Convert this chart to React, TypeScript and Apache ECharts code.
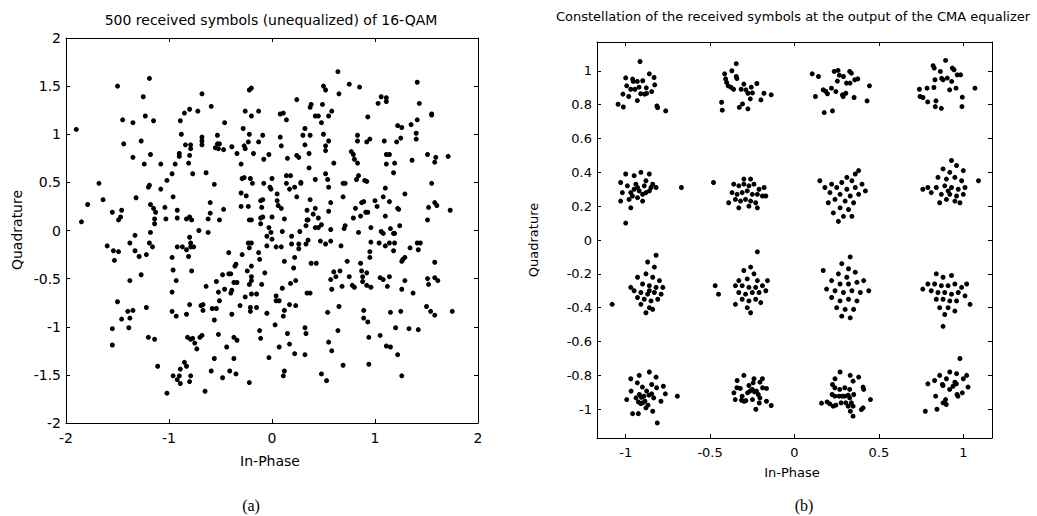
import React, { useEffect, useRef } from "react";
import * as echarts from "echarts";

const leftTitle = "500 received symbols (unequalized) of 16-QAM";
const rightTitle = "Constellation of the received symbols at the output of the CMA equalizer";
const xName = "In-Phase";
const yName = "Quadrature";
const captionA = "(a)";
const captionB = "(b)";

const rightXTicks = [-1, -0.5, 0, 0.5, 1];
const rightYTicks = [-1, -0.8, -0.6, -0.4, -0.2, 0, 0.2, 0.4, 0.6, 0.8, 1];

// (a) unequalized symbols, read region by region
const unequalizedUpperLeft = [
  [-1.90, 1.05], [-1.50, 1.50], [-1.19, 1.58], [-1.25, 1.39], [-1.45, 1.15], [-1.35, 1.12], [-1.23, 1.19], [-1.15, 1.14],
  [-1.44, 0.90], [-1.27, 0.93], [-1.35, 0.76], [-1.18, 0.79], [-1.24, 0.69], [-1.08, 0.69], [-0.94, 0.69], [-0.81, 0.70],
  [-0.68, 1.42], [-0.59, 1.29], [-0.80, 1.26], [-0.85, 1.22], [-0.72, 1.24], [-0.89, 1.14], [-0.88, 1.00], [-0.84, 0.89],
  [-0.79, 0.89], [-0.79, 0.85], [-0.90, 0.80], [-0.90, 0.77], [-0.80, 0.78], [-0.68, 0.97], [-0.68, 0.93], [-0.68, 0.89],
  [-0.53, 0.99], [-0.46, 1.12], [-0.55, 0.86], [-0.53, 0.90], [-0.51, 0.90], [-0.52, 0.85], [-0.47, 0.84], [-0.39, 0.87],
  [-0.34, 0.80], [-0.22, 1.46], [-0.20, 1.48], [-0.26, 1.24], [-0.13, 1.24], [-0.20, 1.19], [-0.28, 1.06], [-0.22, 1.00],
  [-0.09, 0.99], [-0.13, 0.92], [-0.23, 0.92], [-0.27, 0.88], [-0.26, 0.85], [-0.18, 0.80], [-0.03, 0.79], [-0.08, 0.74],
  [-0.30, 0.69],
];
const unequalizedUpperRight = [
  [0.64, 1.65], [0.50, 1.50], [0.52, 1.46], [0.75, 1.52], [0.85, 1.49], [0.65, 1.42], [0.24, 1.36], [0.38, 1.31],
  [0.37, 1.28], [0.49, 1.31], [0.58, 1.24], [0.55, 1.19], [0.42, 1.19], [0.45, 1.19], [0.48, 1.12], [0.08, 1.21],
  [0.11, 1.22], [0.14, 1.15], [0.32, 1.06], [0.08, 0.97], [0.30, 0.99], [0.37, 0.99], [0.50, 1.00], [0.09, 0.88],
  [0.32, 0.89], [0.52, 0.88], [0.55, 0.93], [0.52, 0.83], [0.15, 0.75], [0.24, 0.78], [0.26, 0.76], [0.36, 0.80],
  [0.60, 0.70], [0.93, 1.18], [0.83, 0.99], [0.83, 0.93], [0.92, 0.92], [0.95, 0.95], [0.77, 0.82], [0.79, 0.79],
  [0.80, 0.74], [0.83, 0.70], [1.06, 1.39], [1.11, 1.38], [1.11, 1.34], [1.03, 1.32], [1.41, 1.54], [1.43, 1.32],
  [1.55, 1.21], [1.55, 1.20], [1.41, 1.15], [1.35, 1.10], [1.22, 1.09], [1.26, 1.07], [1.40, 1.01], [1.25, 0.96],
  [1.40, 0.95], [1.21, 0.92], [1.09, 0.93], [1.11, 0.79], [1.14, 0.79], [1.19, 0.70], [1.11, 0.69], [1.36, 0.73],
  [1.51, 0.79], [1.59, 0.76], [1.58, 0.71], [1.71, 0.77],
];
const unequalizedMiddleLeft = [
  [-1.68, 0.49], [-1.64, 0.32], [-1.79, 0.27], [-1.85, 0.09], [-1.55, 0.19], [-1.46, 0.21], [-1.47, 0.14], [-1.49, 0.11],
  [-1.32, 0.34], [-1.20, 0.45], [-1.19, 0.47], [-1.08, 0.43], [-1.02, 0.52], [-0.97, 0.59], [-0.77, 0.59], [-0.64, 0.60],
  [-0.56, 0.48], [-0.96, 0.35], [-1.18, 0.27], [-1.15, 0.23], [-1.13, 0.19], [-1.04, 0.24], [-1.14, 0.12], [-1.14, 0.07],
  [-1.03, 0.12], [-0.92, 0.21], [-0.92, 0.13], [-0.83, 0.12], [-0.80, 0.14], [-0.78, 0.11], [-0.60, 0.29], [-0.60, 0.18],
  [-0.47, 0.22], [-0.62, 0.12], [-0.51, 0.11], [-0.71, 0.00], [-0.62, -0.02], [-1.33, -0.05], [-1.18, -0.02], [-1.60, -0.16],
  [-1.54, -0.21], [-1.49, -0.22], [-1.53, -0.31], [-1.38, -0.13], [-1.33, -0.21], [-1.29, -0.27], [-1.22, -0.25], [-1.19, -0.13],
  [-1.16, -0.17], [-0.92, -0.17], [-0.87, -0.17], [-0.83, -0.20], [-0.80, -0.07], [-0.79, -0.13], [-0.79, -0.17], [-0.76, -0.17],
  [-0.81, -0.27], [-0.97, -0.28], [-0.96, -0.41], [-0.78, -0.42], [-0.93, -0.52], [-0.97, -0.64], [-1.27, -0.46], [-1.38, -0.52],
  [-0.64, -0.58], [-0.54, -0.53], [-0.52, -0.64], [-0.48, -0.46], [-0.46, -0.61], [-0.42, -0.45], [-0.40, -0.45], [-0.39, -0.62],
  [-0.40, -0.65], [-0.37, -0.54], [-0.34, -0.54], [-0.42, -0.23], [-0.36, -0.37], [-0.35, -0.35], [-0.29, -0.25], [-0.24, -0.42],
  [-0.20, -0.37], [-0.20, -0.48], [-0.20, -0.52], [-0.22, -0.56], [-0.20, -0.66], [-0.15, -0.66], [-0.10, -0.56], [-0.07, -0.44],
  [-0.13, -0.23], [-0.12, -0.30], [-0.23, -0.13], [-0.20, -0.13], [-0.22, -0.18], [-0.05, -0.16], [-0.05, -0.06], [-0.01, -0.02],
  [0.00, -0.09], [-0.03, 0.03], [-0.11, 0.07], [-0.11, 0.13], [-0.09, 0.14], [0.00, 0.14], [-0.22, 0.11], [-0.20, 0.11],
  [-0.23, 0.25], [-0.30, 0.25], [-0.10, 0.24], [-0.11, 0.31], [-0.09, 0.32], [-0.25, 0.36], [-0.30, 0.39], [-0.29, 0.54],
  [-0.27, 0.55], [-0.21, 0.54], [-0.19, 0.49], [-0.08, 0.49], [-0.02, 0.45], [-0.01, 0.43], [0.00, 0.54],
];
const unequalizedMiddleRight = [
  [0.36, 0.65], [0.52, 0.59], [0.54, 0.53], [0.42, 0.53], [0.14, 0.57], [0.18, 0.57], [0.14, 0.49], [0.17, 0.43],
  [0.22, 0.45], [0.28, 0.50], [0.28, 0.49], [0.24, 0.35], [0.05, 0.31], [0.06, 0.26], [0.09, 0.23], [0.05, 0.38],
  [0.12, 0.12], [0.04, -0.17], [0.09, -0.17], [0.10, -0.01], [0.19, -0.06], [0.19, -0.14], [0.26, -0.14], [0.26, -0.19],
  [0.22, -0.28], [0.12, -0.32], [0.27, -0.01], [0.33, -0.14], [0.35, -0.10], [0.33, 0.05], [0.34, 0.11], [0.35, 0.11],
  [0.34, 0.21], [0.37, 0.32], [0.40, 0.17], [0.42, 0.23], [0.45, 0.13], [0.48, 0.06], [0.42, 0.03], [0.45, 0.03],
  [0.55, 0.45], [0.57, 0.29], [0.55, 0.20], [0.69, 0.49], [0.71, 0.49], [0.69, 0.35], [0.82, 0.53], [0.84, 0.57],
  [0.90, 0.52], [0.92, 0.51], [0.81, 0.23], [0.79, 0.13], [0.86, 0.15], [0.87, 0.29], [0.89, 0.30], [0.91, 0.19],
  [0.93, 0.19], [1.00, 0.31], [1.02, 0.25], [1.08, 0.35], [1.10, 0.44], [1.14, 0.30], [1.10, 0.15], [1.22, 0.23],
  [1.23, 0.22], [1.29, 0.38], [1.18, 0.60], [1.24, 0.05], [1.15, 0.02], [1.06, -0.01], [1.08, -0.03], [0.96, 0.03],
  [0.84, -0.02], [0.71, 0.05], [0.70, 0.02], [0.57, 0.01], [0.57, -0.11], [0.47, -0.11], [0.52, -0.14], [0.67, -0.16],
  [0.96, -0.12], [1.04, -0.13], [1.10, -0.16], [1.14, -0.13], [1.18, -0.03], [1.19, -0.03], [1.19, -0.13], [1.18, -0.21],
  [0.95, -0.22], [0.95, -0.28], [1.34, -0.18], [1.41, -0.13], [1.44, -0.13], [1.42, -0.20], [1.55, 0.49], [1.52, 0.24],
  [1.58, 0.29], [1.60, 0.26], [1.73, 0.21], [1.51, 0.11], [1.29, -0.28], [1.27, -0.30], [1.26, -0.32], [1.58, -0.33],
  [0.73, -0.32], [0.86, -0.34], [0.38, -0.34], [0.43, -0.34], [0.21, -0.39], [0.23, -0.52], [0.18, -0.55], [0.10, -0.60],
  [0.60, -0.43], [0.66, -0.42], [0.62, -0.48], [0.57, -0.51], [0.75, -0.48], [0.87, -0.42], [0.92, -0.44], [0.88, -0.48],
  [0.88, -0.53], [0.92, -0.57], [0.96, -0.59], [0.78, -0.57], [0.80, -0.59], [0.68, -0.58], [0.58, -0.61], [0.34, -0.65],
  [0.37, -0.65], [1.05, -0.49], [1.08, -0.51], [1.14, -0.48], [1.12, -0.58], [1.29, -0.52], [1.26, -0.61], [1.37, -0.65],
  [1.51, -0.50], [1.52, -0.56], [1.58, -0.49], [1.61, -0.52],
];
const unequalizedLowerLeft = [
  [-1.50, -0.74], [-1.40, -0.84], [-1.35, -0.83], [-1.46, -0.92], [-1.38, -0.91], [-1.55, -1.02], [-1.39, -1.01], [-1.55, -1.19],
  [-1.22, -0.80], [-1.20, -1.11], [-1.14, -1.13], [-0.97, -0.84], [-0.93, -0.89], [-0.83, -0.87], [-0.80, -0.77], [-0.69, -0.78],
  [-0.67, -0.77], [-0.67, -0.83], [-0.58, -0.81], [-0.54, -0.81], [-0.51, -0.73], [-0.56, -0.93], [-0.39, -0.87], [-0.31, -0.78],
  [-0.26, -0.69], [-0.21, -0.80], [-0.15, -0.80], [-0.21, -0.84], [-0.05, -0.86], [-0.82, -1.11], [-0.79, -1.13], [-0.77, -1.12],
  [-0.75, -1.17], [-0.73, -1.23], [-0.70, -1.11], [-0.68, -1.09], [-0.52, -1.08], [-0.44, -1.21], [-0.37, -1.11], [-0.34, -1.14],
  [-0.12, -1.04], [-0.11, -1.12], [-0.03, -1.32], [-0.56, -1.33], [-0.37, -1.33], [-0.41, -1.46], [-0.35, -1.49], [-0.48, -1.53],
  [-0.59, -1.46], [-0.22, -1.58], [-1.11, -1.41], [-0.85, -1.37], [-0.83, -1.41], [-0.89, -1.44], [-0.96, -1.51], [-0.90, -1.51],
  [-0.92, -1.55], [-0.89, -1.59], [-0.79, -1.51], [-0.80, -1.57], [-1.02, -1.69], [-0.65, -1.67],
];
const unequalizedLowerRight = [
  [0.04, -0.68], [0.04, -0.73], [0.07, -0.73], [0.12, -0.83], [0.11, -0.89], [0.17, -0.77], [0.23, -0.78], [0.03, -0.98],
  [0.15, -1.07], [0.32, -1.01], [0.33, -1.07], [0.07, -1.21], [0.17, -1.18], [0.22, -1.28], [0.32, -1.29], [0.12, -1.46],
  [0.11, -1.51], [0.54, -0.85], [0.65, -0.79], [0.64, -1.04], [0.55, -1.16], [0.58, -1.25], [0.69, -1.40], [0.48, -1.49],
  [0.53, -1.56], [0.89, -0.83], [0.89, -0.91], [0.93, -0.95], [0.94, -1.11], [1.05, -1.09], [1.11, -1.20], [1.15, -1.21],
  [1.22, -1.29], [0.94, -1.39], [1.15, -0.85], [1.25, -0.84], [1.20, -1.01], [1.33, -1.02], [1.42, -1.03], [1.26, -1.51],
  [1.50, -0.79], [1.54, -0.84], [1.58, -0.88], [1.75, -0.84],
];

// (b) equalized symbols, read cluster row by cluster row
const equalizedRow1 = [
  [-0.915, 1.055], [-1.0, 0.958], [-0.959, 0.951], [-0.931, 0.937], [-0.899, 0.941], [-0.86, 0.982], [-0.832, 0.96],
  [-0.994, 0.911], [-0.97, 0.891], [-0.945, 0.891], [-0.878, 0.899], [-0.828, 0.917], [-1.016, 0.862], [-0.982, 0.848],
  [-0.888, 0.862], [-0.876, 0.866], [-0.846, 0.877], [-0.931, 0.824], [-1.045, 0.802], [-1.014, 0.786], [-0.815, 0.792],
  [-0.811, 0.782], [-0.763, 0.763], [-0.921, 0.903], [-0.911, 0.864], [-0.955, 0.937],
  [-0.345, 1.042], [-0.414, 0.982], [-0.371, 1.0], [-0.408, 0.952], [-0.393, 0.911], [-0.377, 0.903], [-0.361, 0.891],
  [-0.345, 0.966], [-0.341, 0.954], [-0.316, 0.891], [-0.3, 0.921], [-0.288, 0.887], [-0.276, 0.867], [-0.249, 0.869],
  [-0.223, 0.925], [-0.262, 0.834], [-0.181, 0.867], [-0.138, 0.858], [-0.432, 0.814], [-0.428, 0.767], [-0.327, 0.784],
  [-0.308, 0.804], [-0.276, 0.775], [-0.199, 0.828], [-0.402, 0.931], [-0.256, 0.903],
  [0.105, 0.982], [0.142, 0.966], [0.235, 0.996], [0.258, 1.002], [0.266, 0.974], [0.327, 0.996], [0.337, 0.986],
  [0.29, 0.966], [0.254, 0.939], [0.308, 0.927], [0.329, 0.927], [0.357, 0.947], [0.375, 0.952], [0.444, 0.911],
  [0.17, 0.887], [0.185, 0.879], [0.195, 0.864], [0.219, 0.897], [0.245, 0.877], [0.284, 0.858], [0.304, 0.867],
  [0.288, 0.848], [0.353, 0.842], [0.124, 0.848], [0.43, 0.822], [0.176, 0.753], [0.225, 0.763],
  [0.895, 1.061], [0.821, 1.03], [0.828, 1.016], [0.864, 0.996], [0.905, 0.957], [0.935, 1.016], [0.945, 1.006],
  [0.964, 0.976], [0.984, 0.976], [0.872, 0.955], [0.88, 0.947], [0.832, 0.947], [0.785, 0.897], [0.74, 0.891],
  [0.826, 0.901], [0.931, 0.937], [0.919, 0.887], [0.957, 0.897], [1.069, 0.897], [0.744, 0.848], [0.761, 0.842],
  [0.789, 0.816], [0.838, 0.822], [0.834, 0.788], [0.87, 0.778], [0.994, 0.844], [0.992, 0.788],
];
const equalizedRow2 = [
  [-1.0, 0.39], [-0.95, 0.38], [-0.91, 0.40], [-0.86, 0.39], [-1.03, 0.34], [-0.99, 0.32], [-0.94, 0.33], [-0.89, 0.32],
  [-0.85, 0.31], [-0.82, 0.31], [-1.02, 0.28], [-0.97, 0.28], [-0.92, 0.29], [-0.88, 0.28], [-1.03, 0.23], [-0.98, 0.24],
  [-0.93, 0.25], [-0.90, 0.23], [-0.97, 0.19], [-1.0, 0.10], [-0.67, 0.31], [-0.95, 0.30], [-0.90, 0.27], [-0.86, 0.29],
  [-0.84, 0.33], [-0.93, 0.31], [-0.88, 0.35], [-0.96, 0.26],
  [-0.36, 0.33], [-0.33, 0.32], [-0.30, 0.33], [-0.27, 0.32], [-0.24, 0.33], [-0.21, 0.30], [-0.18, 0.31], [-0.37, 0.28],
  [-0.34, 0.27], [-0.31, 0.28], [-0.28, 0.29], [-0.25, 0.27], [-0.22, 0.27], [-0.19, 0.26], [-0.35, 0.24], [-0.32, 0.23],
  [-0.29, 0.24], [-0.26, 0.23], [-0.23, 0.22], [-0.33, 0.19], [-0.27, 0.20], [-0.22, 0.19], [-0.39, 0.22], [-0.30, 0.36],
  [-0.26, 0.36], [-0.17, 0.26], [-0.48, 0.34],
  [0.38, 0.41], [0.36, 0.39], [0.31, 0.37], [0.34, 0.35], [0.28, 0.34], [0.22, 0.33], [0.15, 0.35], [0.18, 0.31],
  [0.25, 0.31], [0.31, 0.30], [0.36, 0.31], [0.40, 0.33], [0.21, 0.28], [0.27, 0.27], [0.33, 0.26], [0.38, 0.27],
  [0.24, 0.24], [0.30, 0.23], [0.35, 0.22], [0.20, 0.22], [0.27, 0.19], [0.32, 0.18], [0.23, 0.16], [0.29, 0.14],
  [0.34, 0.14], [0.26, 0.11], [0.42, 0.29],
  [0.93, 0.47], [0.96, 0.44], [0.88, 0.42], [0.92, 0.40], [1.0, 0.41], [0.85, 0.37], [0.90, 0.36], [0.95, 0.37],
  [0.99, 0.35], [1.09, 0.35], [0.79, 0.31], [0.84, 0.31], [0.89, 0.32], [0.93, 0.31], [0.97, 0.30], [1.01, 0.31],
  [0.81, 0.28], [0.87, 0.27], [0.92, 0.27], [0.96, 0.26], [1.0, 0.27], [0.90, 0.24], [0.95, 0.23], [0.86, 0.22],
  [0.98, 0.22], [0.76, 0.30], [0.91, 0.29],
];
const equalizedRow3 = [
  [-0.82, -0.09], [-0.87, -0.13], [-0.83, -0.16], [-0.88, -0.20], [-0.84, -0.22], [-0.80, -0.24], [-0.90, -0.26],
  [-0.86, -0.27], [-0.82, -0.28], [-0.95, -0.30], [-0.91, -0.31], [-0.87, -0.32], [-0.83, -0.31], [-0.79, -0.32],
  [-0.93, -0.34], [-0.89, -0.35], [-0.85, -0.36], [-0.81, -0.35], [-0.91, -0.38], [-0.86, -0.40], [-0.88, -0.43],
  [-0.84, -0.41], [-1.08, -0.38], [-0.97, -0.28], [-0.93, -0.22], [-0.78, -0.28], [-0.86, -0.30],
  [-0.22, -0.07], [-0.26, -0.16], [-0.30, -0.18], [-0.24, -0.20], [-0.28, -0.23], [-0.33, -0.24], [-0.22, -0.24],
  [-0.35, -0.27], [-0.31, -0.27], [-0.27, -0.28], [-0.23, -0.28], [-0.19, -0.27], [-0.47, -0.27], [-0.45, -0.32],
  [-0.33, -0.31], [-0.29, -0.32], [-0.25, -0.31], [-0.21, -0.31], [-0.17, -0.30], [-0.31, -0.35], [-0.27, -0.36],
  [-0.23, -0.35], [-0.35, -0.38], [-0.28, -0.40], [-0.20, -0.37], [-0.16, -0.24], [-0.26, -0.43],
  [0.33, -0.10], [0.28, -0.14], [0.32, -0.17], [0.36, -0.19], [0.26, -0.20], [0.31, -0.22], [0.17, -0.18],
  [0.22, -0.24], [0.27, -0.26], [0.32, -0.26], [0.37, -0.25], [0.41, -0.24], [0.19, -0.29], [0.24, -0.30],
  [0.29, -0.31], [0.34, -0.30], [0.39, -0.31], [0.44, -0.30], [0.22, -0.34], [0.27, -0.36], [0.32, -0.35],
  [0.37, -0.36], [0.25, -0.40], [0.30, -0.41], [0.35, -0.41], [0.28, -0.45], [0.33, -0.46],
  [0.84, -0.20], [0.88, -0.22], [0.93, -0.21], [0.79, -0.26], [0.83, -0.26], [0.87, -0.27], [0.91, -0.27],
  [0.95, -0.26], [0.99, -0.28], [1.02, -0.26], [0.81, -0.30], [0.85, -0.31], [0.89, -0.31], [0.93, -0.32],
  [0.97, -0.31], [1.01, -0.33], [0.84, -0.35], [0.88, -0.35], [0.92, -0.36], [0.96, -0.36], [0.86, -0.40],
  [0.91, -0.40], [0.95, -0.42], [0.89, -0.44], [0.88, -0.51], [0.76, -0.29], [1.04, -0.38],
];
const equalizedRow4 = [
  [-0.994, -0.943], [-0.968, -0.893], [-0.931, -0.844], [-0.901, -0.869], [-0.846, -0.854], [-0.817, -0.873],
  [-0.777, -0.864], [-0.765, -0.909], [-0.919, -0.913], [-0.907, -0.929], [-0.892, -0.923], [-0.876, -0.893],
  [-0.939, -0.933], [-0.925, -0.957], [-0.911, -0.966], [-0.899, -0.962], [-0.886, -0.953], [-0.868, -0.976],
  [-0.88, -0.992], [-0.834, -0.933], [-0.84, -1.012], [-0.791, -0.953], [-0.694, -0.923], [-0.959, -1.026],
  [-0.925, -1.026], [-0.813, -1.081], [-0.862, -0.917], [-0.846, -0.909], [-0.92, -0.80], [-0.86, -0.78],
  [-0.97, -0.82], [-0.82, -0.81],
  [-0.359, -0.903], [-0.341, -0.873], [-0.321, -0.877], [-0.31, -0.923], [-0.298, -0.953], [-0.278, -0.903],
  [-0.264, -0.893], [-0.25, -0.883], [-0.237, -0.897], [-0.225, -0.893], [-0.215, -0.913], [-0.205, -0.933],
  [-0.189, -0.873], [-0.166, -0.877], [-0.351, -0.943], [-0.314, -0.947], [-0.288, -0.949], [-0.249, -0.943],
  [-0.209, -0.963], [-0.166, -0.953], [-0.229, -1.0], [-0.138, -0.978], [-0.245, -0.844], [-0.205, -0.84],
  [-0.30, -0.80], [-0.24, -0.82], [-0.34, -0.83], [-0.19, -0.82], [-0.27, -0.86],
  [0.225, -0.854], [0.239, -0.873], [0.268, -0.883], [0.298, -0.873], [0.327, -0.883], [0.347, -0.834],
  [0.406, -0.869], [0.41, -0.883], [0.223, -0.913], [0.239, -0.923], [0.264, -0.923], [0.282, -0.923],
  [0.298, -0.923], [0.318, -0.917], [0.327, -0.933], [0.351, -0.913], [0.16, -0.964], [0.193, -0.957],
  [0.209, -0.968], [0.229, -0.982], [0.245, -0.976], [0.276, -0.962], [0.304, -0.962], [0.318, -0.982],
  [0.337, -0.962], [0.347, -0.982], [0.331, -1.012], [0.347, -1.041], [0.396, -1.002], [0.406, -0.992],
  [0.45, -0.943], [0.27, -0.78], [0.33, -0.80], [0.24, -0.82], [0.38, -0.81],
  [0.876, -0.854], [0.919, -0.883], [0.939, -0.864], [0.959, -0.85], [1.028, -0.869], [0.836, -0.923],
  [0.895, -0.943], [0.88, -0.962], [0.899, -0.972], [0.963, -0.913], [0.968, -0.923], [0.994, -0.903],
  [0.844, -1.0], [0.775, -1.012], [0.98, -0.70], [0.92, -0.78], [0.86, -0.80], [0.96, -0.79], [1.0, -0.82],
  [0.83, -0.83], [0.90, -0.82], [0.95, -0.84], [1.02, -0.80], [0.88, -0.86], [0.79, -0.85],
];

const unequalized = [
  ...unequalizedUpperLeft, ...unequalizedUpperRight,
  ...unequalizedMiddleLeft, ...unequalizedMiddleRight,
  ...unequalizedLowerLeft, ...unequalizedLowerRight,
];
const equalized = [...equalizedRow1, ...equalizedRow2, ...equalizedRow3, ...equalizedRow4];

const FONT = "DejaVu Sans";
const black = "#000";

function frameAxis(gridIndex: number, position: string, showLabel: boolean, range: any, fontSize: number) {
  const { tickValues, ...scale } = range;
  const custom = tickValues ? { customValues: tickValues } : {};
  return {
    type: "value",
    gridIndex,
    position,
    ...scale,
    axisLine: { show: true, onZero: false, lineStyle: { color: black, width: 1 } },
    axisTick: { show: true, inside: true, length: 4, lineStyle: { color: black, width: 1 }, ...custom },
    axisLabel: {
      show: showLabel,
      color: black,
      fontFamily: FONT,
      fontSize,
      margin: position === "left" ? 5 : 8,
      ...custom,
    },
    splitLine: { show: false },
  };
}

function txt(text: string, x: number, y: number, font: string, rotation = 0) {
  return {
    type: "text",
    x,
    y,
    rotation,
    silent: true,
    style: {
      text,
      font,
      fill: black,
      textAlign: "center",
      textVerticalAlign: "middle",
      align: "center",
      verticalAlign: "middle",
    },
  };
}

function dots(data: number[][], axisIndex: number) {
  return {
    type: "scatter",
    xAxisIndex: axisIndex,
    yAxisIndex: axisIndex,
    data,
    symbol: "circle",
    symbolSize: 5,
    itemStyle: { color: black, opacity: 1 },
    silent: true,
  };
}

export default function App() {
  const ref = useRef<HTMLDivElement>(null);
  useEffect(() => {
    document.body.style.margin = "0";
    const chart = echarts.init(ref.current!, null, { renderer: "svg" });
    const leftX = { min: -2, max: 2, interval: 1 };
    const leftY = { min: -2, max: 2, interval: 0.5 };
    const rightX = { min: -1.17, max: 1.17, tickValues: rightXTicks };
    const rightY = { min: -1.17, max: 1.17, tickValues: rightYTicks };
    chart.setOption({
      animation: false,
      backgroundColor: "#fff",
      grid: [
        { left: 66, top: 38, width: 412, height: 385, containLabel: false },
        { left: 597, top: 42, width: 395, height: 396, containLabel: false },
      ],
      xAxis: [
        frameAxis(0, "bottom", true, leftX, 14),
        frameAxis(0, "top", false, leftX, 14),
        frameAxis(1, "bottom", true, rightX, 13),
        frameAxis(1, "top", false, rightX, 13),
      ],
      yAxis: [
        frameAxis(0, "left", true, leftY, 14),
        frameAxis(0, "right", false, leftY, 14),
        frameAxis(1, "left", true, rightY, 13),
        frameAxis(1, "right", false, rightY, 13),
      ],
      series: [dots(unequalized, 0), dots(equalized, 2)],
      graphic: [
        txt(leftTitle, 271, 20, `14px "${FONT}"`),
        txt(rightTitle, 793, 16, `13px "${FONT}"`),
        txt(xName, 270, 461, `14px "${FONT}"`),
        txt(xName, 792, 472, `13px "${FONT}"`),
        txt(yName, 17, 230, `14px "${FONT}"`, Math.PI / 2),
        txt(yName, 533, 240, `13px "${FONT}"`, Math.PI / 2),
        txt(captionA, 251, 505, `16px "Liberation Serif"`),
        txt(captionB, 804, 505, `16px "Liberation Serif"`),
      ],
    });
    return () => chart.dispose();
  }, []);
  return <div ref={ref} style={{ width: 1037, height: 516 }} />;
}
